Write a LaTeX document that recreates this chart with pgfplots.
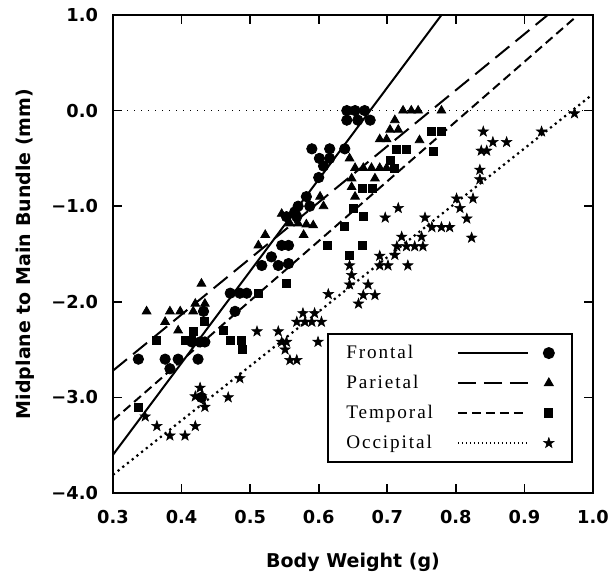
\documentclass[border=0pt]{standalone}
\usepackage{fontspec}
\setmainfont{DejaVu Sans}
\newfontfamily\legfont[LetterSpace=10]{Liberation Serif}
\usepackage{pgfplots}
\pgfplotsset{compat=1.18}
\usepackage{pgfplotstable}

% filled five-point star
\pgfdeclareplotmark{fstar}{%
  \pgfpathmoveto{\pgfpointpolar{90}{\pgfplotmarksize}}%
  \pgfpathlineto{\pgfpointpolar{126}{0.4\pgfplotmarksize}}%
  \pgfpathlineto{\pgfpointpolar{162}{\pgfplotmarksize}}%
  \pgfpathlineto{\pgfpointpolar{198}{0.4\pgfplotmarksize}}%
  \pgfpathlineto{\pgfpointpolar{234}{\pgfplotmarksize}}%
  \pgfpathlineto{\pgfpointpolar{270}{0.4\pgfplotmarksize}}%
  \pgfpathlineto{\pgfpointpolar{306}{\pgfplotmarksize}}%
  \pgfpathlineto{\pgfpointpolar{342}{0.4\pgfplotmarksize}}%
  \pgfpathlineto{\pgfpointpolar{18}{\pgfplotmarksize}}%
  \pgfpathlineto{\pgfpointpolar{54}{0.4\pgfplotmarksize}}%
  \pgfpathclose
  \pgfusepathqfillstroke
}

\pgfplotstableread{
x y
0.337 -2.60
0.376 -2.60
0.383 -2.70
0.395 -2.60
0.424 -2.60
0.429 -3.00
0.415 -2.42
0.427 -2.42
0.434 -2.42
0.432 -2.10
0.478 -2.10
0.471 -1.91
0.485 -1.91
0.495 -1.91
0.517 -1.62
0.541 -1.62
0.556 -1.60
0.531 -1.53
0.546 -1.41
0.556 -1.41
0.553 -1.11
0.568 -1.11
0.565 -1.06
0.570 -1.00
0.587 -1.00
0.582 -0.90
0.600 -0.70
0.607 -0.58
0.601 -0.50
0.616 -0.50
0.590 -0.40
0.616 -0.40
0.638 -0.40
0.641 0.00
0.653 0.00
0.667 0.00
0.641 -0.10
0.657 -0.10
0.675 -0.10
}\frontal

\pgfplotstableread{
x y
0.349 -2.10
0.376 -2.21
0.383 -2.10
0.398 -2.10
0.395 -2.30
0.417 -2.10
0.420 -2.02
0.434 -2.02
0.429 -1.81
0.512 -1.41
0.522 -1.30
0.546 -1.08
0.558 -1.18
0.570 -1.18
0.582 -1.19
0.592 -1.20
0.578 -1.30
0.602 -0.90
0.607 -1.00
0.645 -0.50
0.653 -0.60
0.665 -0.60
0.677 -0.60
0.689 -0.60
0.699 -0.60
0.648 -0.71
0.682 -0.71
0.648 -0.80
0.653 -0.90
0.689 -0.30
0.699 -0.30
0.704 -0.20
0.716 -0.20
0.711 -0.10
0.747 -0.31
0.723 0.00
0.735 0.00
0.745 0.00
0.779 0.00
}\parietal

\pgfplotstableread{
x y
0.337 -3.10
0.364 -2.40
0.405 -2.40
0.415 -2.40
0.417 -2.31
0.434 -2.21
0.461 -2.30
0.471 -2.40
0.487 -2.40
0.488 -2.50
0.512 -1.91
0.553 -1.81
0.612 -1.41
0.645 -1.51
0.638 -1.21
0.650 -1.02
0.663 -1.41
0.665 -1.11
0.663 -0.81
0.679 -0.81
0.711 -0.60
0.704 -0.52
0.714 -0.41
0.728 -0.41
0.767 -0.43
0.765 -0.22
0.779 -0.22
}\temporal

\pgfplotstableread{
x y
0.347 -3.20
0.364 -3.30
0.383 -3.40
0.405 -3.40
0.420 -3.30
0.427 -2.90
0.420 -2.99
0.429 -2.99
0.434 -3.10
0.468 -3.00
0.485 -2.80
0.510 -2.31
0.541 -2.31
0.546 -2.42
0.553 -2.42
0.551 -2.50
0.558 -2.61
0.568 -2.61
0.577 -2.12
0.594 -2.12
0.568 -2.21
0.580 -2.21
0.590 -2.21
0.604 -2.21
0.599 -2.42
0.614 -1.92
0.645 -1.62
0.648 -1.72
0.645 -1.82
0.672 -1.82
0.665 -1.93
0.682 -1.93
0.658 -2.02
0.689 -1.52
0.689 -1.62
0.701 -1.62
0.730 -1.62
0.711 -1.51
0.714 -1.42
0.728 -1.42
0.740 -1.42
0.752 -1.42
0.721 -1.32
0.750 -1.32
0.697 -1.12
0.755 -1.12
0.716 -1.02
0.765 -1.22
0.779 -1.22
0.791 -1.22
0.823 -1.33
0.816 -1.13
0.806 -1.02
0.801 -0.92
0.825 -0.92
0.835 -0.72
0.835 -0.62
0.837 -0.42
0.845 -0.42
0.840 -0.22
0.854 -0.33
0.874 -0.33
0.925 -0.22
0.973 -0.03
}\occipital

\begin{document}
\begin{tikzpicture}
\begin{axis}[
    at={(0,0)}, anchor=south west,
    scale only axis,
    width=240pt, height=239pt,
    xmin=0.3, xmax=1.0,
    ymin=-4, ymax=1,
    xtick={0.3,0.4,0.5,0.6,0.7,0.8,0.9,1.0},
    xticklabels={0.3,0.4,0.5,0.6,0.7,0.8,0.9,1.0},
    ytick={-4,-3,-2,-1,0,1},
    yticklabels={−4.0,−3.0,−2.0,−1.0,0.0,1.0},
    tick align=inside,
    major tick length=4.5pt,
    tick style={line width=0.8pt, black},
    axis line style={line width=0.9pt},
    ticklabel style={font=\fontsize{8.9}{10}\selectfont\bfseries},
    xticklabel style={yshift=-5pt},
    yticklabel style={xshift=-4pt},
    xlabel={Body Weight (g)},
    ylabel={Midplane to Main Bundle (mm)},
    label style={font=\fontsize{9.5}{11}\selectfont\bfseries},
    xlabel style={at={(axis description cs:0.5,-0.155)}, anchor=base},
    ylabel style={at={(axis description cs:-0.171,0.5)}, anchor=base},
    legend plot pos=right,
    legend cell align=left,
    legend image code/.code={%
        \draw[#1, mark=none] (0pt,0pt) -- (35pt,0pt);
        \draw[#1] plot coordinates {(45.5pt,0pt)};
    },
    legend style={
        at={(0.958,0.063)}, anchor=south east,
        draw=black, line width=0.8pt,
        inner xsep=9pt, inner ysep=5pt,
        font=\legfont\fontsize{9.6}{11}\selectfont,
        row sep=6pt, column sep=12pt,
        nodes={inner sep=0pt, text height=7pt, text depth=2pt}
    }
]

% zero line
\addplot[black, line width=0.7pt, dash pattern=on 0.7pt off 2.8pt, forget plot]
    coordinates {(0.3,0) (1.0,0)};

% regression lines
\addplot[black, line width=1pt, forget plot] coordinates {(0.3,-3.60) (0.779,1.0)};
\addplot[black, line width=1pt, dash pattern=on 9pt off 4pt, forget plot]
    coordinates {(0.3,-2.72) (0.934,1.0)};
\addplot[black, line width=1pt, dash pattern=on 4.5pt off 2.5pt, forget plot]
    coordinates {(0.3,-3.24) (0.975,0.98)};
\addplot[black, line width=1.1pt, dash pattern=on 1.1pt off 1.9pt, forget plot]
    coordinates {(0.3,-3.81) (0.995,0.145)};

% data
\addplot[only marks, mark=*, mark size=2.6pt, black, forget plot] table {\frontal};
\addplot[only marks, mark=triangle*, mark size=2.5pt, black, forget plot] table {\parietal};
\addplot[only marks, mark=square*, mark size=2pt, black, forget plot] table {\temporal};
\addplot[only marks, mark=fstar, mark size=2.7pt, black, mark options={line width=0.3pt}, forget plot] table {\occipital};

% legend
\addlegendimage{black, line width=0.8pt, mark=*, mark size=2.6pt, mark options={solid}}
\addlegendentry{Frontal}
\addlegendimage{black, line width=0.8pt, dash pattern=on 9pt off 4pt, mark=triangle*, mark size=2.2pt, mark options={solid}}
\addlegendentry{Parietal}
\addlegendimage{black, line width=0.8pt, dash pattern=on 4.5pt off 2.5pt, mark=square*, mark size=1.9pt, mark options={solid}}
\addlegendentry{Temporal}
\addlegendimage{black, line width=0.6pt, dash pattern=on 0.6pt off 1.4pt, mark=fstar, mark size=2.7pt, mark options={solid, line width=0.3pt}}
\addlegendentry{Occipital}
\end{axis}
\pgfresetboundingbox
\path (-56.5pt,-41.5pt) rectangle (250pt,246.5pt);
\end{tikzpicture}
\end{document}
